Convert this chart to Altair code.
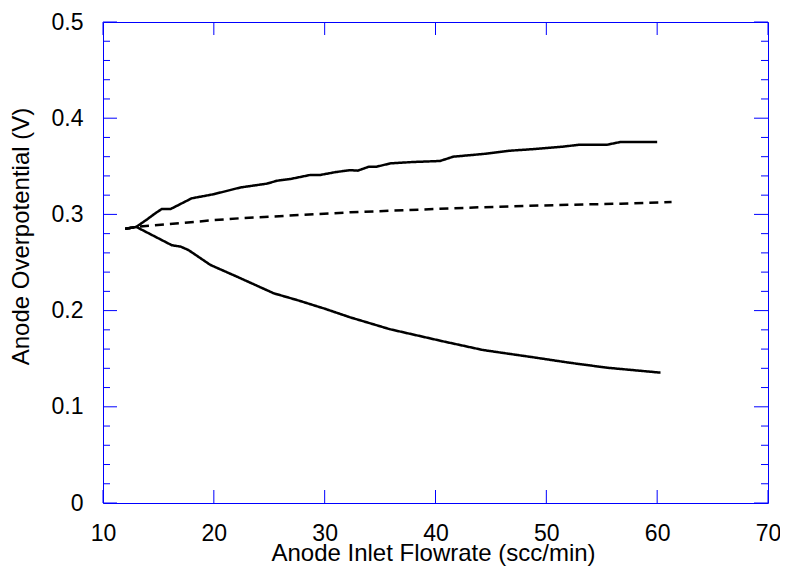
import altair as alt
import pandas as pd

# ---- data ----
upper_x = [12, 13, 14, 14.7, 15.3, 16.1, 18, 20, 22.4, 24.8, 25.7, 27, 28.7, 29.6, 31, 32.3, 33, 34,
           34.7, 35.9, 38, 40.4, 41.6, 44.3, 46.7, 49, 51.5, 53, 55.5, 56.7, 60]
upper_y = [0.285, 0.287, 0.295, 0.301, 0.3056, 0.3056, 0.3167, 0.321, 0.328, 0.332, 0.335, 0.337,
           0.341, 0.341, 0.344, 0.346, 0.3455, 0.3496, 0.3496, 0.353, 0.3545, 0.3555, 0.360, 0.3628,
           0.3662, 0.368, 0.3704, 0.3725, 0.3725, 0.3753, 0.3753]

lower_x = [12, 13, 16.2, 17, 17.7, 19.7, 22.1, 25.4, 27.5, 30, 32.3, 35.9, 40.7, 44.3, 48.8, 52.1,
           55.5, 60.3]
lower_y = [0.285, 0.287, 0.268, 0.2665, 0.263, 0.2474, 0.2352, 0.218, 0.211, 0.202, 0.193, 0.1806,
           0.168, 0.159, 0.1515, 0.1458, 0.1406, 0.1355]

mid_x = [12, 13, 20, 22.4, 32.3, 44, 51.2, 56.7, 61.3]
mid_y = [0.285, 0.287, 0.294, 0.296, 0.3022, 0.3074, 0.3098, 0.3111, 0.3129]

x_major = [10, 20, 30, 40, 50, 60, 70]
y_major = [0, 0.1, 0.2, 0.3, 0.4, 0.5]
y_minor = [0.02, 0.04, 0.06, 0.08, 0.12, 0.14, 0.16, 0.18, 0.22, 0.24, 0.26, 0.28,
           0.32, 0.34, 0.36, 0.38, 0.42, 0.44, 0.46, 0.48]

W, H = 665, 481
FONT = "Liberation Sans"
AXIS_BLUE = "#0000ff"

rows = []
for name, xs, ys in [("upper", upper_x, upper_y), ("lower", lower_x, lower_y), ("mid", mid_x, mid_y)]:
    for xv, yv in zip(xs, ys):
        rows.append({"series": name, "x": xv, "y": yv})
df = pd.DataFrame(rows)

xscale = alt.Scale(domain=[10, 70], nice=False, zero=False)
yscale = alt.Scale(domain=[0, 0.5], nice=False, zero=False)

x_axis = alt.Axis(
    values=x_major, title="Anode Inlet Flowrate (scc/min)", grid=False, ticks=False, tickSize=0,
    domain=False, labelFontSize=23, labelFont=FONT, labelColor="black", labelPadding=37,
    labelBaseline="alphabetic", labelFlush=False, labelOverlap=False,
    titleFont=FONT, titleFontSize=24, titleFontWeight="normal",
    titleColor="black", titleX=330, titleY=57, titleBaseline="alphabetic")
y_axis = alt.Axis(
    values=y_major, title="Anode Overpotential (V)", grid=False, ticks=False, tickSize=0,
    domain=False, labelFontSize=23, labelFont=FONT, labelColor="black", labelPadding=20,
    labelFlush=False, labelOverlap=False,
    labelExpr="datum.value == 0 ? '0' : format(datum.value, '.1f')",
    titleFont=FONT, titleFontSize=24, titleFontWeight="normal", titleColor="black",
    titleX=-75, titleY=214, titleAngle=270, titleBaseline="alphabetic")

lines = alt.Chart(df).mark_line(color="black", strokeWidth=2.5).encode(
    x=alt.X("x:Q", scale=xscale, axis=x_axis),
    y=alt.Y("y:Q", scale=yscale, axis=y_axis),
    detail="series:N",
    strokeDash=alt.StrokeDash("series:N", scale=alt.Scale(
        domain=["upper", "lower", "mid"], range=[[1, 0], [1, 0], [9, 6]]), legend=None),
)

xt = pd.DataFrame({"v": x_major})
yt = pd.DataFrame({"v": y_major})
ym = pd.DataFrame({"v": y_minor})

def xticks(y0, y1):
    return alt.Chart(xt).mark_rule(color=AXIS_BLUE, strokeWidth=1).encode(
        x=alt.X("v:Q", scale=xscale, axis=x_axis), y=alt.value(y0), y2=alt.value(y1))

def yticks(data, x0, x1):
    return alt.Chart(data).mark_rule(color=AXIS_BLUE, strokeWidth=1).encode(
        y=alt.Y("v:Q", scale=yscale, axis=y_axis), x=alt.value(x0), x2=alt.value(x1))

chart = alt.layer(
    lines,
    xticks(H, H - 13), xticks(0, 13),
    yticks(yt, 0, 14), yticks(yt, W, W - 14),
    yticks(ym, 0, 7), yticks(ym, W, W - 7),
).properties(
    width=W, height=H,
    autosize=alt.AutoSizeParams(type="none"),
    padding={"left": 95, "top": 14, "right": 12, "bottom": 63},
).configure_view(stroke=AXIS_BLUE, strokeWidth=1)

chart.save("out.html", embed_options={"renderer": "svg", "actions": False})
